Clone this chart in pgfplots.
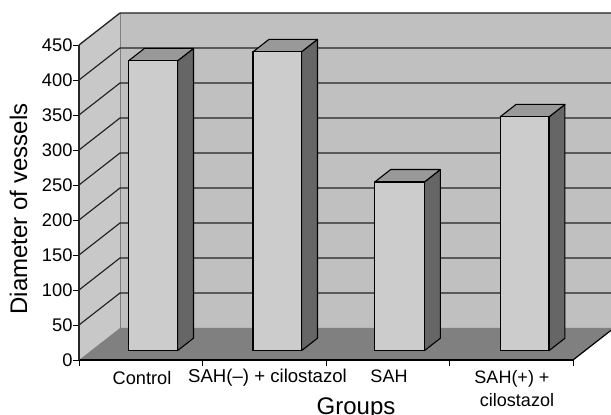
\documentclass[border=0pt]{standalone}
\usepackage{fontspec}
\setmainfont{Liberation Sans}
\usepackage{pgfplots}
\pgfplotsset{compat=1.18}
\definecolor{backwall}{HTML}{C0C0C0}
\definecolor{sidewall}{HTML}{C8C8C8}
\definecolor{floorc}{HTML}{808080}
\definecolor{barfront}{HTML}{CCCCCC}
\definecolor{barside}{HTML}{666666}
\definecolor{bartop}{HTML}{999999}
\definecolor{gridc}{HTML}{222222}
\newcommand{\bars}[5]{% x0, x1, y0, y1, value
  \addplot3[barside,fill=barside,draw=black,line width=1.1pt,line join=round] coordinates {(#2,#3,0) (#2,#4,0) (#2,#4,#5) (#2,#3,#5) (#2,#3,0)};
  \addplot3[bartop,fill=bartop,draw=black,line width=1.1pt,line join=round] coordinates {(#1,#3,#5) (#2,#3,#5) (#2,#4,#5) (#1,#4,#5) (#1,#3,#5)};
  \addplot3[barfront,fill=barfront,draw=black,line width=1.1pt,line join=round] coordinates {(#1,#3,0) (#2,#3,0) (#2,#3,#5) (#1,#3,#5) (#1,#3,0)};
}
\begin{document}
\begin{tikzpicture}[x=1pt,y=1pt]
\useasboundingbox (0,0) rectangle (611,415);
\begin{axis}[
  at={(79pt,55pt)},anchor=origin,
  x={(123.5pt,0pt)},y={(41pt,32pt)},z={(0pt,0.7pt)},
  xmin=0,xmax=4,ymin=0,ymax=1,zmin=0,zmax=450,
  clip=false,
  axis lines*=left,
  axis on top,
  y axis line style={draw=none},
  x axis line style={line width=1.4pt,black,-},
  z axis line style={line width=1.1pt,black!85,-},
  xtick={0,1,2,3,4},xticklabels={},
  ytick=\empty,
  ztick={0,50,...,450},
  tick style={draw=none},
  major tick length=0pt,
  minor tick length=0pt,
  /pgf/number format/assume math mode=true,
  tick label style={font=\fontsize{18.3}{18}\selectfont},
  z tick label style={anchor=east,xshift=-3pt},
]
% walls and floor
\addplot3[fill=backwall,draw=none] coordinates {(0,1,0) (4,1,0) (4,1,450) (0,1,450) (0,1,0)};
\addplot3[fill=sidewall,draw=none] coordinates {(0,0,0) (0,1,0) (0,1,450) (0,0,450) (0,0,0)};
\addplot3[fill=floorc,draw=none] coordinates {(0,0,0) (4,0,0) (4,1,0) (0,1,0) (0,0,0)};
% wall edges
\addplot3[color=gray,line width=0.7pt] coordinates {(0,1,0) (0,1,450)};
\addplot3[color=gridc,line width=1.3pt] coordinates {(0,0,450) (0,1,450) (4,1,450)};
\addplot3[color=black,line width=1.2pt] coordinates {(4,0,0) (4,1,0)};
% grid lines
\pgfplotsinvokeforeach{50,100,...,400}{
  \addplot3[color=gridc,line width=1.15pt] coordinates {(0,0,#1) (0,1,#1) (4,1,#1)};
}
% tick marks
\pgfplotsinvokeforeach{0,50,...,450}{
  \addplot3[color=black,line width=0.9pt] coordinates {(-0.05,0,#1) (0,0,#1)};
}
\pgfplotsinvokeforeach{0,1,...,4}{
  \addplot3[color=black,line width=0.9pt] coordinates {(#1,0,0) (#1,0,-8)};
}
% bars: x0, x1, y0, y1, value
\bars{0.304}{0.701}{0.29}{0.68}{414}
\bars{1.313}{1.705}{0.29}{0.68}{427}
\bars{2.298}{2.700}{0.29}{0.68}{241}
\bars{3.313}{3.709}{0.29}{0.68}{334}
\end{axis}
\def\lf{\fontsize{18}{18}\selectfont}
\node[anchor=base,inner sep=0pt,font=\fontsize{18.2}{18}\selectfont] at (142,30.7) {Control};
\node[anchor=base,inner sep=0pt,font=\fontsize{18.6}{18}\selectfont] at (267.5,32) {SAH(–) + cilostazol};
\node[anchor=base,inner sep=0pt,font=\lf] at (389,32) {SAH};
\node[anchor=base,inner sep=0pt,font=\lf] at (512,31) {SAH(+) +};
\node[anchor=base,inner sep=0pt,font=\lf] at (517,8.3) {cilostazol};
\node[anchor=base,inner sep=0pt,font=\fontsize{24}{24}\selectfont] at (356,0.5) {Groups};
\node[anchor=base,inner sep=0pt,rotate=90,font=\fontsize{24}{24}\selectfont] at (27,206) {Diameter of vessels};
\end{tikzpicture}
\end{document}
